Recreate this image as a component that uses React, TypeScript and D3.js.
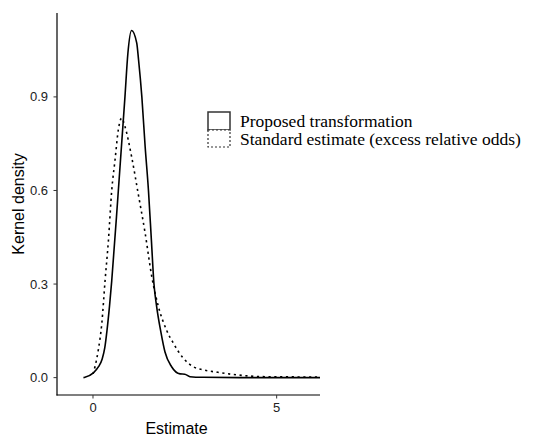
import React from "react";
import * as d3 from "d3";

const proposedX = [-0.26, -0.22, 0.01, 0.15, 0.25, 0.32, 0.38, 0.45, 0.51, 0.69, 0.87, 0.95, 1.05, 1.19, 1.24, 1.33, 1.42, 1.51, 1.59, 1.66, 1.73, 1.85, 1.96, 2.14, 2.37, 2.5, 2.64, 3.0, 4.0, 6.18];
const proposedY = [0.0, 0.001, 0.015, 0.035, 0.06, 0.095, 0.15, 0.23, 0.31, 0.6, 0.9, 1.04, 1.113, 1.073, 1.019, 0.9, 0.74, 0.6, 0.44, 0.3, 0.23, 0.145, 0.082, 0.035, 0.012, 0.011, 0.003, 0.001, 0.0, 0.0];

const standardX = [0.0, 0.054, 0.145, 0.24, 0.33, 0.42, 0.51, 0.6, 0.69, 0.78, 0.87, 1.05, 1.23, 1.42, 1.6, 1.78, 2.0, 2.19, 2.46, 2.73, 3.0, 3.4, 3.9, 4.7, 6.18];
const standardY = [0.012, 0.035, 0.089, 0.174, 0.313, 0.44, 0.6, 0.698, 0.795, 0.832, 0.805, 0.709, 0.59, 0.463, 0.324, 0.228, 0.153, 0.11, 0.062, 0.035, 0.025, 0.017, 0.009, 0.003, 0.002];

const xTicks = [0, 5];
const yTicks = [0, 0.3, 0.6, 0.9];
const legendLabels = ["Proposed transformation", "Standard estimate (excess relative odds)"];

export default function App() {
  const W = 534, H = 437;
  const x = d3.scaleLinear().domain([-0.98, 6.18]).range([57, 320]);
  const y = d3.scaleLinear().domain([-0.0557, 1.169]).range([395, 13]);
  const line = d3.line<[number, number]>().x(d => x(d[0])).y(d => y(d[1])).curve(d3.curveMonotoneX);
  const prop = proposedX.map((v, i) => [v, proposedY[i]] as [number, number]);
  const std = standardX.map((v, i) => [v, standardY[i]] as [number, number]);
  const sans = "'Liberation Sans', Arial, sans-serif";
  const serif = "'Liberation Serif', 'Times New Roman', serif";
  return (
    <svg width={W} height={H} style={{ position: "absolute", left: 0, top: 0, background: "#fff" }}>
      <rect x={0} y={0} width={W} height={H} fill="#fff" />
      <defs>
        <clipPath id="panel">
          <rect x={57} y={13} width={263} height={382} />
        </clipPath>
      </defs>
      <g clipPath="url(#panel)">
        <path d={line(std) || ""} fill="none" stroke="#000" strokeWidth={1.6} strokeDasharray="2.2,3.6" />
        <path d={line(prop) || ""} fill="none" stroke="#000" strokeWidth={1.6} />
      </g>
      <line x1={57} x2={57} y1={13} y2={395.5} stroke="#000" strokeWidth={1.2} />
      <line x1={56.5} x2={320} y1={395} y2={395} stroke="#000" strokeWidth={1.2} />
      {yTicks.map(t => (
        <g key={"y" + t}>
          <line x1={53.5} x2={57} y1={y(t)} y2={y(t)} stroke="#333" strokeWidth={1} />
          <text x={48} y={y(t) + 4.5} textAnchor="end" fontFamily={sans} fontSize={13} fill="#222">
            {d3.format(".1f")(t)}
          </text>
        </g>
      ))}
      {xTicks.map(t => (
        <g key={"x" + t}>
          <line x1={x(t)} x2={x(t)} y1={395} y2={398.5} stroke="#333" strokeWidth={1} />
          <text x={x(t)} y={412} textAnchor="middle" fontFamily={sans} fontSize={13} fill="#222">
            {t}
          </text>
        </g>
      ))}
      <text x={176.5} y={434} textAnchor="middle" fontFamily={sans} fontSize={16} fill="#000">Estimate</text>
      <text transform={`translate(24,204) rotate(-90)`} textAnchor="middle" fontFamily={sans} fontSize={16} fill="#000">Kernel density</text>
      <rect x={208} y={112} width={22} height={18} fill="#fff" stroke="#333" strokeWidth={1.5} />
      <rect x={208} y={130} width={22} height={17} fill="#fff" stroke="#333" strokeWidth={1.2} strokeDasharray="2,2" />
      <text x={240} y={127} fontFamily={serif} fontSize={17.5} fill="#000">{legendLabels[0]}</text>
      <text x={240} y={145} fontFamily={serif} fontSize={17.5} fill="#000">{legendLabels[1]}</text>
    </svg>
  );
}
